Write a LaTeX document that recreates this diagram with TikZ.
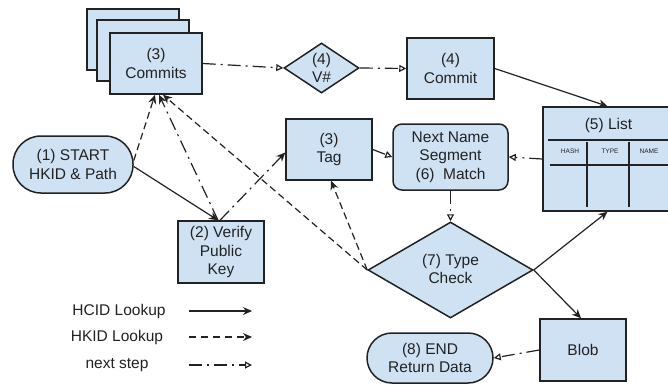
\documentclass[tikz,border=0pt]{standalone}
\usepackage{fontspec}
\setmainfont{Liberation Sans}
\usetikzlibrary{arrows.meta,shapes.geometric}
\definecolor{boxfill}{HTML}{CFE2F3}
\definecolor{ink}{HTML}{222222}
\begin{document}
\begin{tikzpicture}[x=1pt,y=-1pt,
  every node/.style={font=\fontsize{15.5}{18.5}\selectfont, text=ink},
  box/.style={draw=ink, line width=1.5pt, fill=boxfill, inner sep=0pt, align=center},
  dia/.style={box, diamond},
  small/.style={font=\fontsize{6.5}{8}\selectfont},
  hcid/.style={draw=ink, line width=1.2pt, -{Stealth[length=9pt,width=8pt]}},
  hkid/.style={hcid, dash pattern=on 7pt off 4pt},
  nextstep/.style={draw=ink, line width=1.2pt, dash pattern=on 13pt off 5pt on 2pt off 5pt, -{Triangle[length=7pt,width=7pt,fill=white]}},
  nextfilled/.style={hcid, dash pattern=on 13pt off 5pt on 2pt off 5pt},
  gridline/.style={draw=ink, line width=1.3pt}]
\useasboundingbox (0,0) rectangle (668,385);
\clip (0,0) rectangle (668,385);

% stacked commits
\node[box, minimum width=92pt, minimum height=61pt] (commitsA) at (133,39.5) {};
\node[box, minimum width=92pt, minimum height=61pt] (commitsB) at (143,50.5) {};
\node[box, minimum width=92pt, minimum height=61pt] (commits) at (156,63.5) {(3)\\Commits};

% V#
\node[dia, minimum width=75pt, minimum height=50pt] (vhash) at (321.5,68) {};
\node[align=center] (vhashtext) at (321.5,68) {(4)\\V\#};

% Commit
\node[box, minimum width=87pt, minimum height=61pt] (commit) at (450.5,68.5) {(4)\\Commit};

% List
\node[box, minimum width=137pt, minimum height=104pt] (list) at (611.5,159) {};
\node (listtitle) at (608.5,125) {(5) List};
\draw[gridline] (548,140) -- (680,140);
\draw[gridline] (550,165) -- (680,165);
\draw[gridline] (587,142) -- (587,207);
\draw[gridline] (629,142) -- (629,207);
\node[small] (hash) at (570,151) {HASH};
\node[small] (type) at (610,151) {TYPE};
\node[small] (name) at (649,151) {NAME};

% Tag
\node[box, minimum width=86pt, minimum height=61pt] (tag) at (329,149.5) {(3)\\Tag};

% Next name segment
\node[box, rounded corners=9pt, minimum width=115pt, minimum height=66pt] (nextname) at (450.5,157) {Next Name\\Segment\\(6)\ \ Match};

% Start
\node[box, rounded corners=28pt, minimum width=120pt, minimum height=57pt] (start) at (73,164.5) {(1) START\\HKID \& Path};

% Verify
\node[box, minimum width=86pt, minimum height=62pt] (verify) at (221,252) {(2) Verify\\Public\\Key};

% Type check
\node[dia, minimum width=165pt, minimum height=96pt] (typecheck) at (450.5,270) {};
\node[align=center] (typetext) at (450.5,269) {(7) Type\\Check};

% Blob
\node[box, minimum width=86pt, minimum height=62pt] (blob) at (583,350) {Blob};

% End
\node[box, rounded corners=25pt, minimum width=126pt, minimum height=50pt] (endnode) at (430,358) {(8) END\\Return Data};

% connectors
\draw[nextstep] (commits.east) -- (vhash.west);
\draw[nextstep] (vhash.east) -- (commit.west);
\draw[hcid] (commit.east) -- ([xshift=-4pt]list.north);
\draw[hcid] ([yshift=-2pt]start.east) -- ([xshift=-3pt]verify.north);
\draw[hkid] ([yshift=4pt]start.east) -- ([xshift=-1pt]commits.south);
\draw[nextfilled] ([xshift=-3pt]verify.north) -- ([xshift=3pt]commits.south);
\draw[nextfilled] ([xshift=-1pt]verify.north) -- ([yshift=-3pt]tag.west);
\draw[nextstep] (tag.east) -- (nextname.west);
\draw[nextstep] (list.west) -- (nextname.east);
\draw[nextstep] (nextname.south) -- (typecheck.north);
\draw[hkid] (typecheck.west) -- ([xshift=2pt]tag.south);
\draw[hkid] (typecheck.west) -- ([xshift=7pt]commits.south);
\draw[hcid] (typecheck.east) -- ([xshift=-4pt]list.south);
\draw[hcid] (typecheck.east) -- ([xshift=-2pt]blob.north);
\draw[nextstep] (blob.west) -- (endnode.east);

% legend
\node (lg1) at (119,311) {HCID Lookup};
\node (lg2) at (117,337) {HKID Lookup};
\node (lg3) at (117,365) {next step};
\coordinate (a1) at (189,311); \coordinate (b1) at (252,311);
\coordinate (a2) at (189,337); \coordinate (b2) at (252,337);
\coordinate (a3) at (189,365); \coordinate (b3) at (252,365);
\draw[hcid] (a1) -- (b1);
\draw[hkid, dash pattern=on 7pt off 5pt] (a2) -- (b2);
\draw[nextstep] (a3) -- (b3);
\end{tikzpicture}
\end{document}
